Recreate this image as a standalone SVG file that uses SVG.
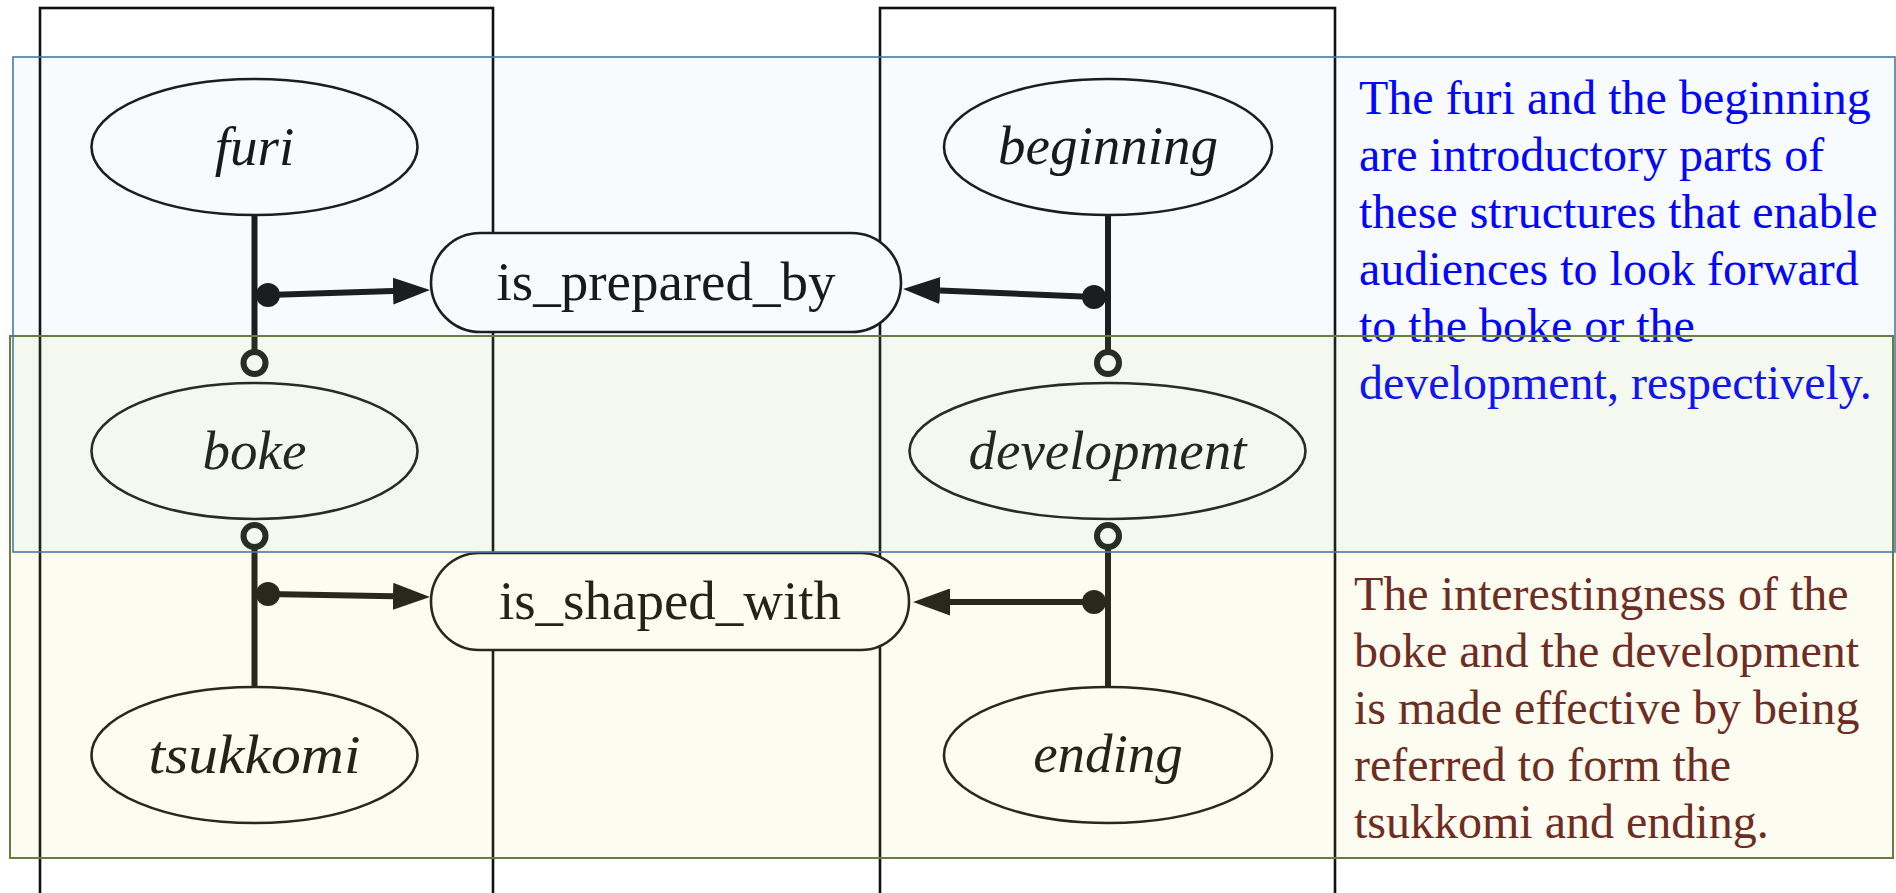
<svg xmlns="http://www.w3.org/2000/svg" width="1896" height="893" viewBox="0 0 1896 893">
  <style>
    .frame { fill: none; stroke: #111111; stroke-width: 2.6; }
    .node { fill: #ffffff; stroke: #1a1a1a; stroke-width: 2.6; }
    .label { font-family: "Liberation Serif", "Times New Roman", serif; font-size: 55px; fill: #151515; text-anchor: middle; }
    .concept { font-style: italic; }
    .link { fill: none; stroke: #1a1a1a; stroke-width: 6; }
    .joint { fill: #1a1a1a; }
    .hollow { fill: #ffffff; stroke: #1a1a1a; stroke-width: 6; }
    .note { font-family: "Liberation Serif", "Times New Roman", serif; font-size: 48px; }
    .note-blue { fill: #0000ff; }
    .note-red { fill: #662020; }
    .band-green { fill: #d7d746; fill-opacity: 0.075; stroke: #6b7d3a; stroke-width: 2; }
    .band-blue { fill: #3f8fc0; fill-opacity: 0.04; stroke: #4a78a8; stroke-width: 1.6; }
  </style>
  <defs>
    <marker id="arrow" viewBox="0 -13.5 37 27" refX="0" refY="0" markerWidth="37" markerHeight="27" markerUnits="userSpaceOnUse" orient="auto">
      <path d="M0,-13.5 L37,0 L0,13.5 z" fill="#1a1a1a"/>
    </marker>
  </defs>

  <rect x="0" y="0" width="1896" height="893" fill="#ffffff"/>

  <!-- column frames -->
  <g id="columns">
    <rect class="frame" x="40" y="8" width="453" height="900"/>
    <rect class="frame" x="880" y="8" width="455" height="900"/>
  </g>

  <!-- concept nodes -->
  <g id="furi">
    <ellipse class="node" cx="254.5" cy="147" rx="163" ry="68"/>
    <text class="label concept" x="254.5" y="165">furi</text>
  </g>
  <g id="beginning">
    <ellipse class="node" cx="1108" cy="147" rx="164" ry="68"/>
    <text class="label concept" x="1108" y="164">beginning</text>
  </g>
  <g id="boke">
    <ellipse class="node" cx="254.5" cy="451" rx="163" ry="68"/>
    <text class="label concept" x="254.5" y="469">boke</text>
  </g>
  <g id="development">
    <ellipse class="node" cx="1107.5" cy="451" rx="198" ry="68"/>
    <text class="label concept" x="1107.5" y="469">development</text>
  </g>
  <g id="tsukkomi">
    <ellipse class="node" cx="254.5" cy="755" rx="163" ry="68"/>
    <text class="label concept" x="254.5" y="773" textLength="212" lengthAdjust="spacingAndGlyphs">tsukkomi</text>
  </g>
  <g id="ending">
    <ellipse class="node" cx="1108" cy="755" rx="164" ry="68"/>
    <text class="label concept" x="1108" y="772">ending</text>
  </g>

  <!-- relation nodes -->
  <g id="is_prepared_by">
    <rect class="node" x="431" y="233" width="470" height="99" rx="49.5" ry="49.5"/>
    <text class="label" x="666" y="300">is_prepared_by</text>
  </g>
  <g id="is_shaped_with">
    <rect class="node" x="431" y="553" width="478" height="97" rx="48.5" ry="48.5"/>
    <text class="label" x="670" y="619">is_shaped_with</text>
  </g>

  <!-- connectors -->
  <g id="connectors">
    <!-- furi – boke -->
    <line class="link" x1="254.5" y1="215" x2="254.5" y2="352"/>
    <circle class="hollow" cx="254.5" cy="363" r="11"/>
    <circle class="joint" cx="268" cy="295" r="12"/>
    <line class="link" x1="268" y1="295" x2="393" y2="291.1" marker-end="url(#arrow)"/>

    <!-- beginning – development -->
    <line class="link" x1="1108" y1="215" x2="1108" y2="352"/>
    <circle class="hollow" cx="1108" cy="363" r="11"/>
    <circle class="joint" cx="1094" cy="297" r="12"/>
    <line class="link" x1="1094" y1="297" x2="940" y2="290.5" marker-end="url(#arrow)"/>

    <!-- boke – tsukkomi -->
    <circle class="hollow" cx="254.5" cy="536" r="11"/>
    <line class="link" x1="254.5" y1="547" x2="254.5" y2="687"/>
    <circle class="joint" cx="268" cy="594" r="12"/>
    <line class="link" x1="268" y1="594" x2="393" y2="596.3" marker-end="url(#arrow)"/>

    <!-- development – ending -->
    <circle class="hollow" cx="1108" cy="536" r="11"/>
    <line class="link" x1="1108" y1="547" x2="1108" y2="687"/>
    <circle class="joint" cx="1094" cy="602" r="12"/>
    <line class="link" x1="1094" y1="602" x2="950" y2="602" marker-end="url(#arrow)"/>
  </g>

  <!-- annotations -->
  <g id="note-intro" class="note note-blue">
    <text x="1359" y="114">The furi and the beginning</text>
    <text x="1359" y="171">are introductory parts of</text>
    <text x="1359" y="228">these structures that enable</text>
    <text x="1359" y="285">audiences to look forward</text>
    <text x="1359" y="342">to the boke or the</text>
    <text x="1359" y="399">development, respectively.</text>
  </g>
  <g id="note-interest" class="note note-red">
    <text x="1354" y="610">The interestingness of the</text>
    <text x="1354" y="667">boke and the development</text>
    <text x="1354" y="724">is made effective by being</text>
    <text x="1354" y="781">referred to form the</text>
    <text x="1354" y="838">tsukkomi and ending.</text>
  </g>

  <!-- translucent bands -->
  <g id="bands">
    <rect class="band-green" x="10" y="336" width="1883" height="522"/>
    <rect class="band-blue" x="13" y="57" width="1882" height="495"/>
  </g>
</svg>
